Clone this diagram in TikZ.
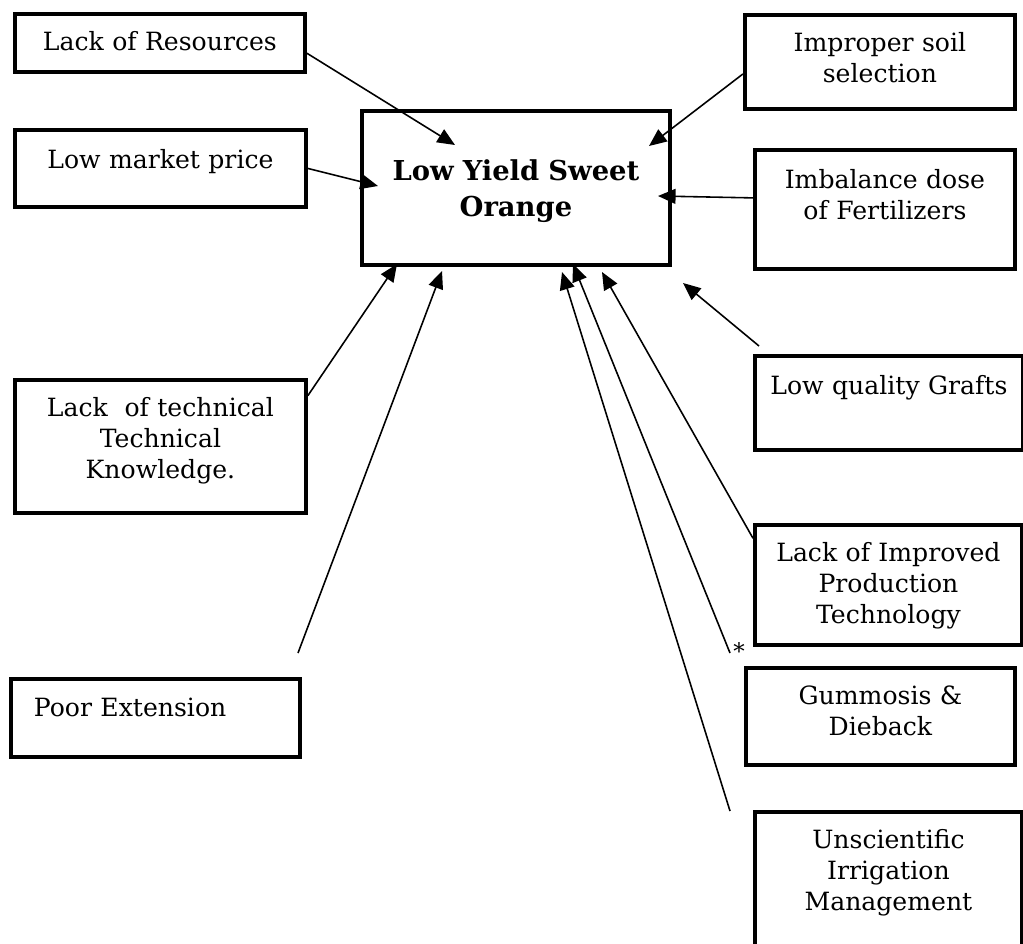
\documentclass[tikz,border=0pt]{standalone}
\usepackage{fontspec}
\setmainfont{DejaVu Serif}
\usetikzlibrary{arrows.meta}
\newlength{\pxu}
\setlength{\pxu}{0.02cm}

\begin{document}
\begin{tikzpicture}[
x=0.02cm, y=-0.02cm,
cause/.style = {draw, line width=2.2pt, anchor=north west, inner sep=0pt, align=center, font=\fontsize{14.3}{17.6}\selectfont},
effect/.style = {cause, font=\fontsize{15.6}{20}\selectfont\bfseries},
arrow/.style = {-{Triangle[length=10pt, width=8.5pt]}, line width=0.9pt} ]
\useasboundingbox (0,0) rectangle (1023,943);

\node[effect, text width=308\pxu, text height=70\pxu, text depth=84\pxu] (yield) at (360,109) {Low Yield Sweet\\ Orange};

\node[cause, text width=290\pxu, text height=37\pxu, text depth=21\pxu] (res) at (13,12) {Lack of Resources};
\node[cause, text width=291\pxu, text height=39\pxu, text depth=38\pxu] (price) at (13,128) {Low market price};
\node[cause, text width=291\pxu, text height=37\pxu, text depth=96\pxu] (tech) at (13,378) {Lack~~of technical\\ Technical\\ Knowledge.};
\node[cause, text width=243\pxu, inner xsep=23\pxu, align=left, text height=38\pxu, text depth=40\pxu] (ext) at (9,677) {Poor Extension};

\node[cause, text width=270\pxu, text height=37\pxu, text depth=57\pxu] (soil) at (743,13) {Improper soil\\ selection};
\node[cause, text width=260\pxu, text height=39\pxu, text depth=80\pxu] (fert) at (753,148) {Imbalance dose\\ of Fertilizers};
\node[cause, text width=268\pxu, text height=39\pxu, text depth=55\pxu] (grafts) at (753,354) {Low quality Grafts};
\node[cause, text width=267\pxu, text height=37\pxu, text depth=83\pxu] (impr) at (753,523) {Lack of Improved\\ Production\\ Technology};
\node[cause, text width=269\pxu, text height=37\pxu, text depth=60\pxu] (gum) at (744,666) {Gummosis \&\\ Dieback};
\node[cause, text width=267\pxu, text height=37\pxu, text depth=113\pxu] (irr) at (753,810) {Unscientific\\ Irrigation\\ Management};

\node[inner sep=0pt, font=\fontsize{13}{13}\selectfont] (star) at (739,651) {*};

\coordinate (tipres) at (455,145);
\coordinate (tipprice) at (378,186);
\coordinate (tiptech) at (397,264);
\coordinate (tipext) at (442,271);
\coordinate (tipsoil) at (649,146);
\coordinate (tipfert) at (658,196);
\coordinate (tipgrafts) at (683,283);
\coordinate (tipimpr) at (602,272);
\coordinate (tipgum) at (573,264);
\coordinate (tipirr) at (562,272);

\coordinate (extfrom) at (298,653);
\coordinate (graftsfrom) at (759,346);
\coordinate (gumfrom) at (730,653);
\coordinate (irrfrom) at (730,811);

\draw[arrow] (res.-4) -- (tipres);
\draw[arrow] (price.east) -- (tipprice);
\draw[arrow] (tech.19) -- (tiptech);
\draw[arrow] (extfrom) -- (tipext);
\draw[arrow] (soil.185) -- (tipsoil);
\draw[arrow] (fert.175) -- (tipfert);
\draw[arrow] (graftsfrom) -- (tipgrafts);
\draw[arrow] (impr.161) -- (tipimpr);
\draw[arrow] (gumfrom) -- (tipgum);
\draw[arrow] (irrfrom) -- (tipirr);

\end{tikzpicture}
\end{document}
